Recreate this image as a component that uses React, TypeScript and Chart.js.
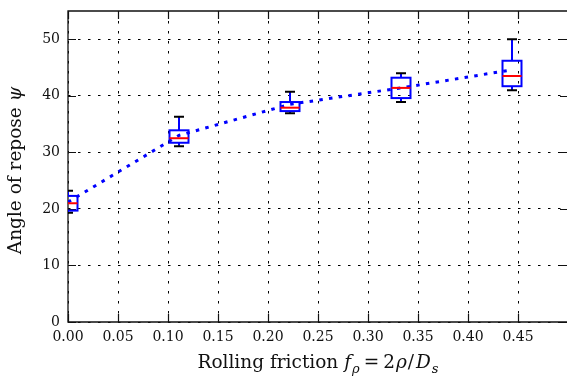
import React, { useEffect, useRef } from "react";
import { Chart, registerables } from "chart.js";

Chart.register(...registerables);

// ---- data ----
const frictionValues = [0, 0.111, 0.222, 0.333, 0.444];
const meanAngle = [21.2, 33.0, 38.5, 41.4, 44.6];
const whiskerLow = [19.3, 31.1, 36.9, 38.9, 41.0];
const quartileLow = [19.7, 31.7, 37.3, 39.6, 41.7];
const medianAngle = [21.0, 32.5, 37.9, 41.4, 43.5];
const quartileHigh = [22.3, 33.9, 38.9, 43.2, 46.2];
const whiskerHigh = [23.2, 36.3, 40.7, 44.0, 50.0];
const xTickValues = [0, 0.05, 0.1, 0.15, 0.2, 0.25, 0.3, 0.35, 0.4, 0.45];
const yTickValues = [0, 10, 20, 30, 40, 50];

// ---- styles ----
const FONT = "'DejaVu Serif', 'Liberation Serif', serif";
const BLUE = "#0000ff";
const RED = "#ff0000";
const BOX_HALF = 0.0095; // data units
const CAP_HALF = 0.005; // data units
const TICK_LEN = 8;

const boxPlugin = {
  id: "boxes",
  beforeDatasetsDraw(chart: any) {
    const { ctx, chartArea } = chart;
    const xs = chart.scales.x;
    const ys = chart.scales.y;
    const { left, right, top, bottom } = chartArea;
    ctx.save();
    ctx.strokeStyle = "#111";
    ctx.lineWidth = 1.3;
    ctx.beginPath();
    ctx.rect(left, top, right - left, bottom - top);
    ctx.stroke();
    ctx.lineWidth = 1.2;
    ctx.beginPath();
    xTickValues.forEach((v) => {
      const px = Math.round(xs.getPixelForValue(v)) + 0.5;
      ctx.moveTo(px, bottom);
      ctx.lineTo(px, bottom - TICK_LEN);
      ctx.moveTo(px, top);
      ctx.lineTo(px, top + TICK_LEN);
    });
    yTickValues.forEach((v) => {
      const py = Math.round(ys.getPixelForValue(v)) + 0.5;
      ctx.moveTo(left, py);
      ctx.lineTo(left + TICK_LEN, py);
      ctx.moveTo(right, py);
      ctx.lineTo(right - TICK_LEN, py);
    });
    ctx.stroke();
    ctx.restore();
  },
  afterDatasetsDraw(chart: any) {
    const { ctx, chartArea } = chart;
    const xs = chart.scales.x;
    const ys = chart.scales.y;
    ctx.save();
    ctx.beginPath();
    ctx.rect(chartArea.left, chartArea.top, chartArea.right - chartArea.left, chartArea.bottom - chartArea.top);
    ctx.clip();
    ctx.lineWidth = 2;
    frictionValues.forEach((xv, i) => {
      const cx = xs.getPixelForValue(xv);
      const hw = xs.getPixelForValue(xv + BOX_HALF) - cx;
      const cw = xs.getPixelForValue(xv + CAP_HALF) - cx;
      const yWl = ys.getPixelForValue(whiskerLow[i]);
      const yQ1 = ys.getPixelForValue(quartileLow[i]);
      const yMed = ys.getPixelForValue(medianAngle[i]);
      const yQ3 = ys.getPixelForValue(quartileHigh[i]);
      const yWh = ys.getPixelForValue(whiskerHigh[i]);
      ctx.strokeStyle = BLUE;
      ctx.beginPath();
      ctx.moveTo(cx, yQ3);
      ctx.lineTo(cx, yWh);
      ctx.moveTo(cx, yQ1);
      ctx.lineTo(cx, yWl);
      ctx.stroke();
      ctx.strokeStyle = "#000";
      ctx.beginPath();
      ctx.moveTo(cx - cw, yWh);
      ctx.lineTo(cx + cw, yWh);
      ctx.moveTo(cx - cw, yWl);
      ctx.lineTo(cx + cw, yWl);
      ctx.stroke();
      ctx.strokeStyle = BLUE;
      ctx.strokeRect(cx - hw, yQ3, 2 * hw, yQ1 - yQ3);
      ctx.strokeStyle = RED;
      ctx.beginPath();
      ctx.moveTo(cx - hw, yMed);
      ctx.lineTo(cx + hw, yMed);
      ctx.stroke();
    });
    ctx.restore();
  },
  afterDraw(chart: any) {
    const { ctx, chartArea } = chart;
    ctx.save();
    ctx.fillStyle = "#111";
    ctx.textBaseline = "alphabetic";
    ctx.textAlign = "left";
    type Piece = { t: string; f: string; dy?: number; pl?: number; pr?: number };
    const drawPieces = (pieces: Piece[], cx: number, by: number) => {
      let total = 0;
      pieces.forEach((p) => {
        ctx.font = p.f;
        total += (p.pl || 0) + ctx.measureText(p.t).width + (p.pr || 0);
      });
      let x = cx - total / 2;
      pieces.forEach((p) => {
        ctx.font = p.f;
        x += p.pl || 0;
        ctx.fillText(p.t, x, by + (p.dy || 0));
        x += ctx.measureText(p.t).width + (p.pr || 0);
      });
    };
    const N = `18.5px ${FONT}`;
    const I = `italic 18.5px ${FONT}`;
    const S = `italic 13px ${FONT}`;
    const cx = (chartArea.left + chartArea.right) / 2;
    drawPieces(
      [
        { t: "Rolling friction ", f: N },
        { t: "f", f: I, pr: 1 },
        { t: "ρ", f: S, dy: 4.5 },
        { t: "=", f: N, pl: 4, pr: 4 },
        { t: "2", f: N },
        { t: "ρ", f: I, pl: 1 },
        { t: "/", f: N, pl: 1, pr: 2 },
        { t: "D", f: I },
        { t: "s", f: S, dy: 4.5, pl: 1 },
      ],
      cx,
      368
    );
    ctx.translate(21, (chartArea.top + chartArea.bottom) / 2 + 4);
    ctx.rotate(-Math.PI / 2);
    drawPieces(
      [
        { t: "Angle of repose ", f: N },
        { t: "ψ", f: I },
      ],
      0,
      0
    );
    ctx.restore();
  },
};

export default function App() {
  const canvasRef = useRef<HTMLCanvasElement | null>(null);

  useEffect(() => {
    const canvas = canvasRef.current;
    if (!canvas) return;
    const chart = new Chart(canvas, {
      type: "scatter",
      data: {
        datasets: [
          {
            label: "mean",
            data: frictionValues.map((x, i) => ({ x, y: meanAngle[i] })),
            showLine: true,
            borderColor: BLUE,
            backgroundColor: BLUE,
            borderWidth: 3,
            borderDash: [3.5, 6.3],
            pointRadius: 0,
            tension: 0,
          },
        ],
      },
      options: {
        animation: false,
        responsive: false,
        devicePixelRatio: 1,
        layout: { padding: { left: 0, top: 11, right: 12, bottom: 0 } },
        plugins: { legend: { display: false }, tooltip: { enabled: false } },
        scales: {
          x: {
            type: "linear",
            min: 0,
            max: 0.5,
            afterBuildTicks: (s: any) => {
              s.ticks = xTickValues.map((v) => ({ value: v }));
            },
            afterFit: (s: any) => {
              s.height = 57;
              s.paddingLeft = 0;
              s.paddingRight = 0;
              s.paddingTop = 0;
              s.paddingBottom = 0;
            },
            ticks: {
              callback: (v: any) => Number(v).toFixed(2),
              font: { family: FONT, size: 14 },
              color: "#111",
              padding: 7,
              maxRotation: 0,
              autoSkip: false,
            },
            grid: { color: "#000", lineWidth: 1, drawTicks: false },
            border: { display: false, dash: [2.5, 7.5] },
          },
          y: {
            type: "linear",
            min: 0,
            max: 55,
            afterBuildTicks: (s: any) => {
              s.ticks = yTickValues.map((v) => ({ value: v }));
            },
            afterFit: (s: any) => {
              s.width = 68;
              s.paddingLeft = 0;
              s.paddingRight = 0;
              s.paddingTop = 0;
              s.paddingBottom = 0;
            },
            ticks: {
              callback: (v: any) => String(v),
              font: { family: FONT, size: 14 },
              color: "#111",
              padding: 8,
              autoSkip: false,
            },
            grid: { color: "#000", lineWidth: 1, drawTicks: false },
            border: { display: false, dash: [2.5, 7.5] },
          },
        },
      },
      plugins: [boxPlugin],
    } as any);
    return () => chart.destroy();
  }, []);

  return (
    <div style={{ position: "fixed", left: 0, top: 0, width: 567, height: 379, overflow: "hidden", background: "#fff" }}>
      <canvas ref={canvasRef} width={580} height={379} style={{ width: 580, height: 379, display: "block" }} />
    </div>
  );
}
